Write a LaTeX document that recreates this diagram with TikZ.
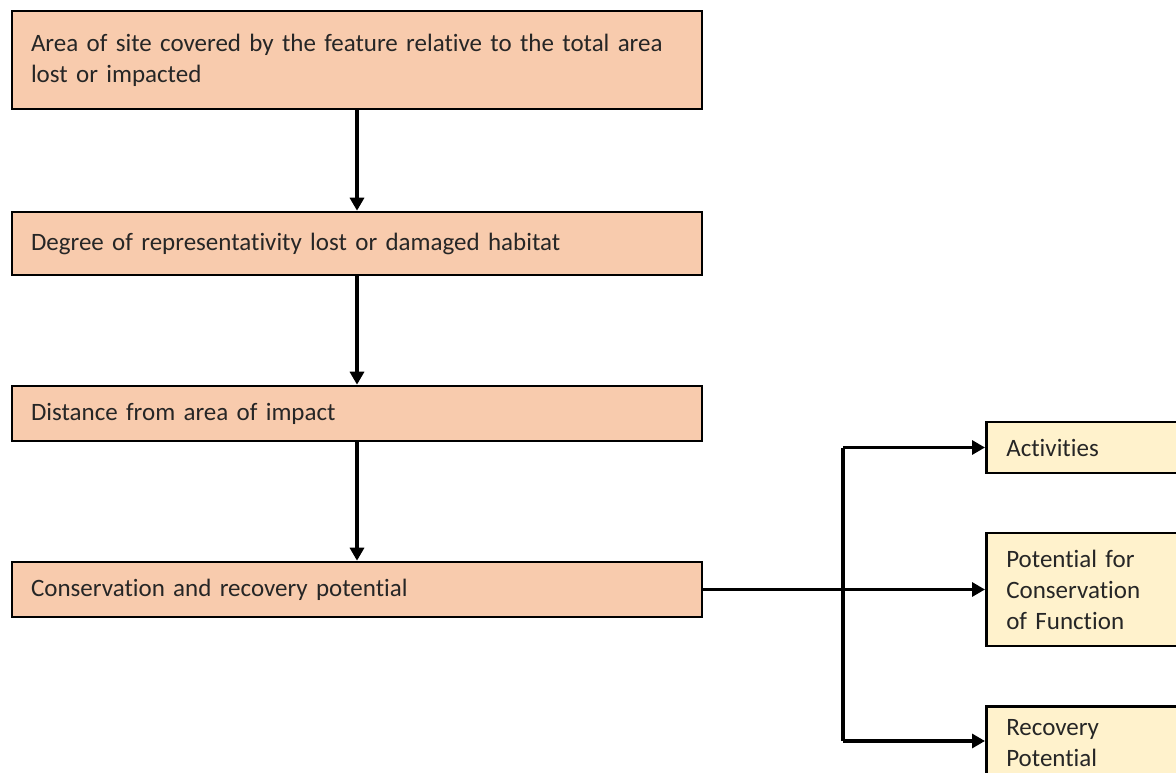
\documentclass[tikz,border=0pt]{standalone}
\usepackage{fontspec}
\setmainfont[RawFeature={-liga;-clig;-dlig;-calt;-hlig}]{Carlito}
\usetikzlibrary{arrows.meta}
\definecolor{peach}{HTML}{F8CBAD}
\definecolor{cream}{HTML}{FFF2CC}
\definecolor{txt}{HTML}{262626}
\begin{document}
\begin{tikzpicture}[x=1pt,y=1pt,
  base/.style={draw=black,line width=2.6pt,rectangle,align=left,
    font=\fontsize{25}{31}\selectfont,text=txt,inner ysep=0pt},
  leftbox/.style={base,fill=peach,text width=652pt,inner xsep=19pt,minimum width=690pt},
  rightbox/.style={base,fill=cream,text width=180pt,inner xsep=20pt,minimum width=220pt},
  arr/.style={line width=3.2pt,-{Triangle[width=14pt,length=13pt]}},
  ln/.style={line width=3.2pt}]
\path[use as bounding box] (0,0) rectangle (1176,-773);
\clip (0,0) rectangle (1176,-773);
\node[leftbox,minimum height=98pt] (b1) at (357,-60) {Area of site covered by the feature relative to the total area\\lost or impacted};
\node[leftbox,minimum height=63pt] (b2) at (357,-243.5) {Degree of representativity lost or damaged habitat};
\node[leftbox,minimum height=55pt] (b3) at (357,-413.5) {Distance from area of impact};
\node[leftbox,minimum height=55pt] (b4) at (357,-589.5) {Conservation and recovery potential};
\node[rightbox,minimum height=51pt,anchor=west] (r1) at (985,-447.5) {Activities};
\node[rightbox,minimum height=113pt,anchor=west] (r2) at (985,-589.5) {Potential for\\Conservation\\of Function};
\node[rightbox,minimum height=113pt,anchor=north west] (r3) at (985,-705) {Recovery\\Potential\\\strut};
\coordinate (j) at (843,-589.5);
\coordinate (r3in) at (985,-741);
\draw[arr] (b1.south) -- (b2.north);
\draw[arr] (b2.south) -- (b3.north);
\draw[arr] (b3.south) -- (b4.north);
\draw[arr] (b4.east) -- (r2.west);
\draw[ln] (j) -- (j |- r1.west);
\draw[ln] (j) -- (j |- r3in);
\draw[arr] (j |- r1.west) -- (r1.west);
\draw[arr] (j |- r3in) -- (r3in);
\end{tikzpicture}
\end{document}
